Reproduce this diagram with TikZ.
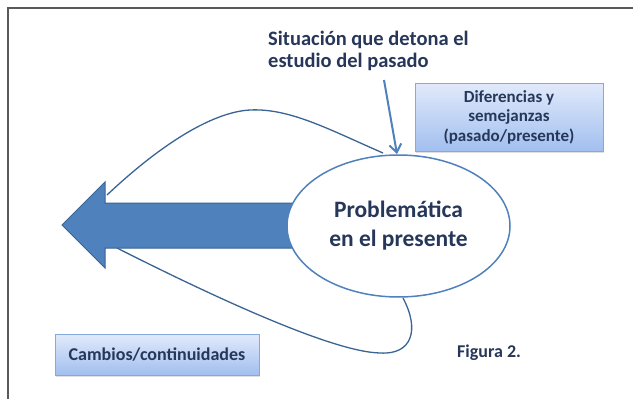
\documentclass[tikz,border=0pt]{standalone}
\usepackage{fontspec}
\setmainfont{Carlito}
\usetikzlibrary{shapes.geometric,arrows.meta,shadows}
\definecolor{txt}{HTML}{26375A}
\definecolor{bluefill}{HTML}{4F81BD}
\definecolor{blueline}{HTML}{3A6494}
\definecolor{boxtop}{HTML}{E1EAFB}
\definecolor{boxbot}{HTML}{A2BFEF}
\definecolor{boxline}{HTML}{86A8DC}
\definecolor{frame}{HTML}{5A5A5A}
\tikzset{
  gradbox/.style={draw=boxline, line width=1pt, top color=boxtop, bottom color=boxbot,
    drop shadow={opacity=0.25, shadow xshift=1pt, shadow yshift=-2pt},
    text=txt, font=\bfseries, align=center, inner sep=0pt},
  loopline/.style={draw=blueline, line width=1.3pt},
  label/.style={text=txt, font=\bfseries, inner sep=0pt}
}
\begin{document}
\begin{tikzpicture}[x=1pt,y=-1pt]
\useasboundingbox (0,0) rectangle (633,399);
\fill[white] (0,0) rectangle (633,399);
% frame
\draw[frame, line width=1.5pt] (8,399) -- (8,8) -- (633,8);
% big arrow
\coordinate (tip) at (62,225);
\filldraw[fill=bluefill, draw=blueline, line width=1pt]
  (305,203) -- (105,203) -- (105,182) -- (tip) -- (105,268) -- (105,248) -- (305,248) -- cycle;
% loop curves
\coordinate (u1) at (383,153);
\coordinate (u2) at (107,195);
\coordinate (l1) at (117,248);
\coordinate (l2) at (403,298);
\draw[loopline] (u1) .. controls (330,130) and (290,108) .. (250,110)
  .. controls (212,112) and (160,145) .. (u2);
\draw[loopline] (l1) .. controls (200,290) and (330,352) .. (380,353)
  .. controls (412,355) and (420,330) .. (l2);
% ellipse
\node[ellipse, draw=bluefill, line width=1.5pt, fill=white, minimum width=223pt, minimum height=142pt,
  text=txt, font=\fontsize{23.5}{29}\selectfont\bfseries, align=center, inner sep=0pt]
  (ell) at (398.5,226) {Problemática\\en el presente};
% title
\node[label, anchor=north west, align=left, font=\fontsize{20.5}{22}\selectfont\bfseries]
  (title) at (268,31) {Situación que detona el\\estudio del pasado};
% thin arrow
\coordinate (arrstart) at (384,80);
\draw[draw=bluefill, line width=2pt, -{Straight Barb[length=8pt,width=12pt,line width=2pt]}]
  (arrstart) -- (397,154);
% boxes
\node[gradbox, minimum width=188pt, minimum height=68pt, font=\fontsize{17}{19.5}\selectfont\bfseries]
  (dif) at (509,117) {Diferencias y\\semejanzas\\(pasado/presente)};
\node[gradbox, minimum width=204pt, minimum height=41pt, font=\fontsize{18}{20}\selectfont\bfseries]
  (camb) at (157,354.5) {Cambios/continuidades};
\node[label, anchor=west, font=\fontsize{18}{20}\selectfont\bfseries] (fig) at (457,353) {Figura 2.};
\end{tikzpicture}
\end{document}
